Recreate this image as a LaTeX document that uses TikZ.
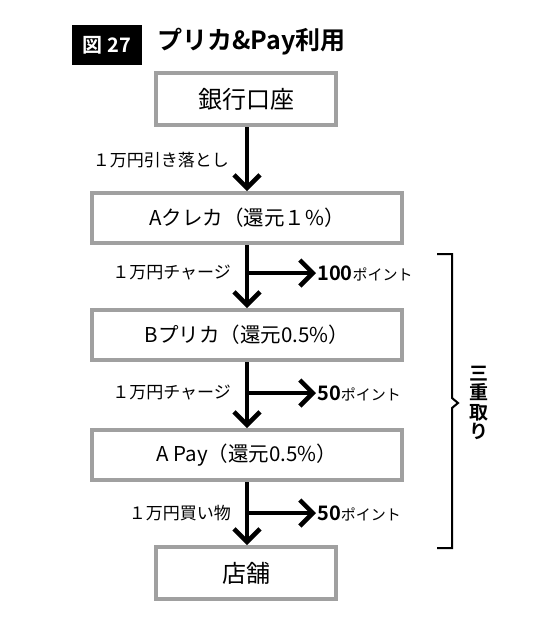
\documentclass[tikz,border=0pt]{standalone}
\usepackage{fontspec}
\setmainfont{Noto Sans CJK JP}[BoldFont={Noto Sans CJK JP Bold}]
\usetikzlibrary{arrows.meta}
\definecolor{boxgray}{RGB}{160,160,160}

\tikzset{
  flowbox/.style={draw=boxgray, line width=4pt, fill=white, minimum height=50pt, inner sep=0pt, font=\fontsize{20.5}{24}\selectfont},
  widebox/.style={flowbox, minimum width=310pt},
  endbox/.style={flowbox, minimum width=180pt, minimum height=52pt, font=\fontsize{24}{26}\selectfont},
  flowarrow/.style={line width=4.5pt, -{Straight Barb[length=13pt,width=26pt]}},
  steplabel/.style={anchor=east, inner sep=1pt, font=\fontsize{17}{19}\selectfont},
  pointlabel/.style={anchor=west, inner sep=1pt, font=\fontsize{20}{21}\selectfont\bfseries},
}
\newcommand{\pointtext}[1]{#1{\mdseries\fontsize{15}{16}\selectfont ポイント}}

\begin{document}
\begin{tikzpicture}[x=1pt, y=-1pt]

\useasboundingbox[fill=white] (0,0) rectangle (540,635);

% heading
\node[fill=black, text=white, minimum width=70pt, minimum height=40pt, font=\fontsize{20}{22}\selectfont\bfseries] (fignum) at (107,45) {図 27};
\node[anchor=west, inner sep=0pt, font=\fontsize{25}{27}\selectfont\bfseries] (title) at (157,42) {プリカ\&Pay利用};

% boxes
\node[endbox] (bank) at (246,99) {銀行口座};
\node[widebox] (acard) at (247,218) {Aクレカ（還元１\%）};
\node[widebox] (bprica) at (247,335) {Bプリカ（還元0.5\%）};
\node[widebox] (apay) at (247,455) {A Pay（還元0.5\%）};
\node[endbox] (shop) at (246,573) {店舗};

% main flow
\draw[flowarrow] (bank.south -| 247,0) -- (acard.north -| 247,0);
\draw[flowarrow] (acard) -- (bprica);
\draw[flowarrow] (bprica) -- (apay);
\draw[flowarrow] (apay.south -| 247,0) -- (shop.north -| 247,0);

\node[steplabel] (draw1) at (230,160) {１万円引き落とし};
\node[steplabel] (charge1) at (232,273) {１万円チャージ};
\node[steplabel] (charge2) at (232,393) {１万円チャージ};
\node[steplabel] (buy) at (232,513) {１万円買い物};

% points
\coordinate (b1) at (247,273);
\coordinate (b2) at (247,393);
\coordinate (b3) at (247,513);
\node[pointlabel] (pt1) at (316,273) {\pointtext{100}};
\node[pointlabel] (pt2) at (316,393) {\pointtext{50}};
\node[pointlabel] (pt3) at (316,513) {\pointtext{50}};
\draw[flowarrow] (b1) -- (pt1.west);
\draw[flowarrow] (b2) -- (pt2.west);
\draw[flowarrow] (b3) -- (pt3.west);

% bracket
\draw[line width=2pt, line join=miter] (437,254) -- (452,254) -- (452,398) -- (458,403) -- (452,408) -- (452,548) -- (437,548);
\node[align=center, inner sep=0pt, font=\fontsize{19}{19.5}\selectfont\bfseries] (triple) at (479,403) {三\\重\\取\\り};

\end{tikzpicture}
\end{document}
